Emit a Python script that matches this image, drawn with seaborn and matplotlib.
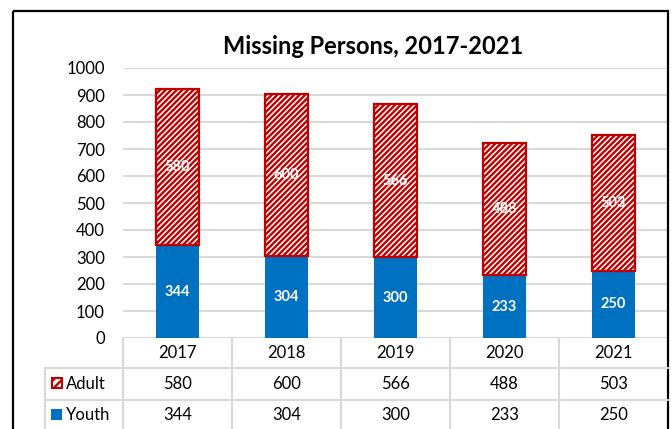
import numpy as np
import pandas as pd
import seaborn as sns
import matplotlib.pyplot as plt
import matplotlib.transforms as mtransforms
from matplotlib.patches import Rectangle
from matplotlib.lines import Line2D

# Data
years = ["2017", "2018", "2019", "2020", "2021"]
adult = [580, 600, 566, 488, 503]
youth = [344, 304, 300, 233, 250]
series_names = ["Adult", "Youth"]
yticks = list(range(0, 1001, 100))

RED = "#C00000"
BLUE = "#0070C0"
GRID = "#D9D9D9"
W, H = 672, 429

sns.set_theme(style="white")
plt.rcParams["font.family"] = ["Lato", "DejaVu Sans"]
plt.rcParams["hatch.linewidth"] = 1.7
plt.rcParams["hatch.color"] = RED

fig = plt.figure(figsize=(W / 100, H / 100), dpi=100)
fig.patch.set_facecolor("white")

# pixel coordinates measured from the top-left corner of the figure
px = mtransforms.Affine2D().scale(1 / W, -1 / H).translate(0, 1) + fig.transFigure

ax = fig.add_axes([123 / W, (H - 338) / H, (668 - 123) / W, 270 / H])

df = pd.DataFrame({"year": years, "Adult": adult, "Youth": youth})

sns.barplot(data=df, x="year", y="Youth", color=BLUE, saturation=1,
            width=0.4, linewidth=0, ax=ax, zorder=3)
sns.barplot(data=df, x="year", y="Adult", bottom=df["Youth"].values,
            color="white", saturation=1, edgecolor=RED, linewidth=1.6,
            hatch="//////", width=0.4, ax=ax, zorder=3)

# value labels inside the segments
for i, (a, y) in enumerate(zip(adult, youth)):
    ax.text(i, y / 2, f"{y}", ha="center", va="center", color="white",
            fontsize=10.5, fontweight="bold", zorder=5)
    ax.text(i, y + a / 2, f"{a}", ha="center", va="center", color="white",
            fontsize=10.5, fontweight="bold", zorder=5)

ax.set_ylim(0, 1000)
ax.set_xlim(-0.5, len(years) - 0.5)
ax.set_yticks(yticks)
ax.set_yticklabels([str(t) for t in yticks], fontsize=12, color="black")
ax.tick_params(axis="y", length=0, pad=13)
ax.tick_params(axis="x", length=0, labelbottom=False)
ax.set_xlabel("")
ax.set_ylabel("")
ax.yaxis.grid(True, color=GRID, linewidth=1.5)
ax.set_axisbelow(True)
for s in ax.spines.values():
    s.set_visible(False)

# data table under the bars
tx = mtransforms.blended_transform_factory(ax.transData, px)
for b in np.arange(-0.5, len(years) - 0.5, 1.0):
    fig.add_artist(Line2D([b, b], [338, 440], transform=tx, color=GRID, lw=1.5))
for yline in (368, 400):
    fig.add_artist(Line2D([45, 668], [yline, yline], transform=px, color=GRID, lw=1.5))
fig.add_artist(Line2D([45, 45], [368, 440], transform=px, color=GRID, lw=1.5))

rows = [(353, years), (384, [str(v) for v in adult]), (415, [str(v) for v in youth])]
for yc, vals in rows:
    for i, v in enumerate(vals):
        fig.text(i, yc, v, transform=tx, ha="center", va="center",
                 fontsize=12, color="black")

# series keys in the table's first column
fig.add_artist(Rectangle((52, 378), 10, 10, transform=px, facecolor="white",
                         edgecolor=RED, lw=1.5, hatch="////"))
fig.add_artist(Rectangle((51, 409), 11, 11, transform=px, facecolor=BLUE,
                         edgecolor="none"))
fig.text(66, 384, series_names[0], transform=px, ha="left", va="center",
         fontsize=12, color="black")
fig.text(66, 415, series_names[1], transform=px, ha="left", va="center",
         fontsize=12, color="black")

fig.text(373, 47, "Missing Persons, 2017-2021", transform=px, ha="center",
         va="center", fontsize=17, fontweight="bold", color="black")

# outer chart border
fig.add_artist(Rectangle((13, 11), 655, 500, transform=px, fill=False,
                         edgecolor="black", lw=1.6))

fig.savefig("out.png", dpi=100)
